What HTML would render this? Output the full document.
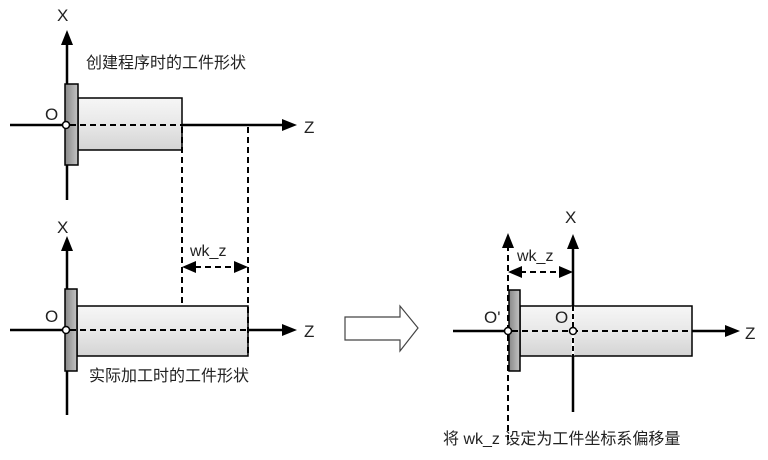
<!DOCTYPE html>
<html><head><meta charset="utf-8"><style>
body{margin:0;background:#fff;width:768px;height:455px;overflow:hidden}
text{font-family:"Liberation Sans","Noto Sans CJK SC",sans-serif;fill:#222}
</style></head><body>
<svg width="768" height="455" viewBox="0 0 768 455" xmlns="http://www.w3.org/2000/svg">
<defs>
<linearGradient id="cyl" x1="0" y1="0" x2="0" y2="1">
<stop offset="0" stop-color="#f6f6f6"/><stop offset="0.5" stop-color="#e8e8e8"/><stop offset="1" stop-color="#d4d4d4"/>
</linearGradient>
<linearGradient id="fl" x1="0" y1="0" x2="1" y2="0">
<stop offset="0" stop-color="#888"/><stop offset="1" stop-color="#c4c4c4"/>
</linearGradient>
</defs>
<g stroke="#000" stroke-width="2.5" fill="none">
<line x1="67" y1="40" x2="67" y2="200"/>
<line x1="10" y1="125" x2="285" y2="125"/>
<line x1="67" y1="245" x2="67" y2="415"/>
<line x1="10" y1="330" x2="285" y2="330"/>
<line x1="573" y1="244" x2="573" y2="412"/>
<line x1="453" y1="331" x2="730" y2="331"/>
</g>
<g fill="#000">
<polygon points="67,30 61,45 73,45"/>
<polygon points="297,125 282,119 282,131"/>
<polygon points="67,236 61,251 73,251"/>
<polygon points="297,330 282,324 282,336"/>
<polygon points="573,234 567,249 579,249"/>
<polygon points="740,331 725,325 725,337"/>
<polygon points="508,233 502,248 514,248"/>
</g>
<rect x="78" y="98" width="104" height="52" fill="url(#cyl)" stroke="#000" stroke-width="1.5"/>
<rect x="65" y="84" width="13" height="81" fill="url(#fl)" stroke="#000" stroke-width="1.5"/>
<rect x="77" y="306" width="171" height="50" fill="url(#cyl)" stroke="#000" stroke-width="1.5"/>
<rect x="65" y="289" width="12" height="82" fill="url(#fl)" stroke="#000" stroke-width="1.5"/>
<rect x="520" y="306" width="172" height="50" fill="url(#cyl)" stroke="#000" stroke-width="1.5"/>
<rect x="509" y="290" width="11" height="81" fill="url(#fl)" stroke="#000" stroke-width="1.5"/>
<g stroke="#000" stroke-width="2" stroke-dasharray="6,4" fill="none">
<line x1="70" y1="125" x2="182" y2="125"/>
<line x1="182" y1="127" x2="182" y2="306"/>
<line x1="248" y1="127" x2="248" y2="356"/>
<line x1="70" y1="330" x2="248" y2="330"/>
<line x1="195" y1="267" x2="236" y2="267"/>
<line x1="508" y1="245" x2="508" y2="440"/>
<line x1="512" y1="331" x2="692" y2="331"/>
<line x1="520" y1="272" x2="561" y2="272"/>
</g>
<line x1="573" y1="306" x2="573" y2="356" stroke="#fff" stroke-width="2.5"/>
<line x1="573" y1="306" x2="573" y2="356" stroke="#000" stroke-width="2" stroke-dasharray="5,3"/>
<g fill="#000">
<polygon points="182,267 196,261 196,273"/>
<polygon points="248,267 234,261 234,273"/>
<polygon points="508,272 522,266 522,278"/>
<polygon points="573,272 559,266 559,278"/>
</g>
<g fill="#fff" stroke="#000" stroke-width="1.5">
<circle cx="66" cy="125" r="3.5"/>
<circle cx="66" cy="330" r="3.5"/>
<circle cx="508" cy="331" r="3.5"/>
<circle cx="573" cy="331" r="3.5"/>
</g>
<polygon points="345,317 400,317 400,306 418,328 400,351 400,340 345,340" fill="#fff" stroke="#444" stroke-width="1.2"/>
<g font-size="17">
<text x="57" y="21">X</text>
<text x="304" y="133">Z</text>
<text x="45" y="120">O</text>
<text x="57" y="233">X</text>
<text x="304" y="337">Z</text>
<text x="45" y="322">O</text>
<text x="565" y="223">X</text>
<text x="745" y="339">Z</text>
<text x="484" y="323">O'</text>
<text x="555" y="323">O</text>
</g>
<g font-size="16">
<text x="190" y="256">wk_z</text>
<text x="517" y="261">wk_z</text>
</g>
<g font-size="16">
<text x="86" y="68">创建程序时的工件形状</text>
<text x="89" y="381">实际加工时的工件形状</text>
<text x="443" y="444">将 wk_z 设定为工件坐标系偏移量</text>
</g>
</svg>
</body></html>
